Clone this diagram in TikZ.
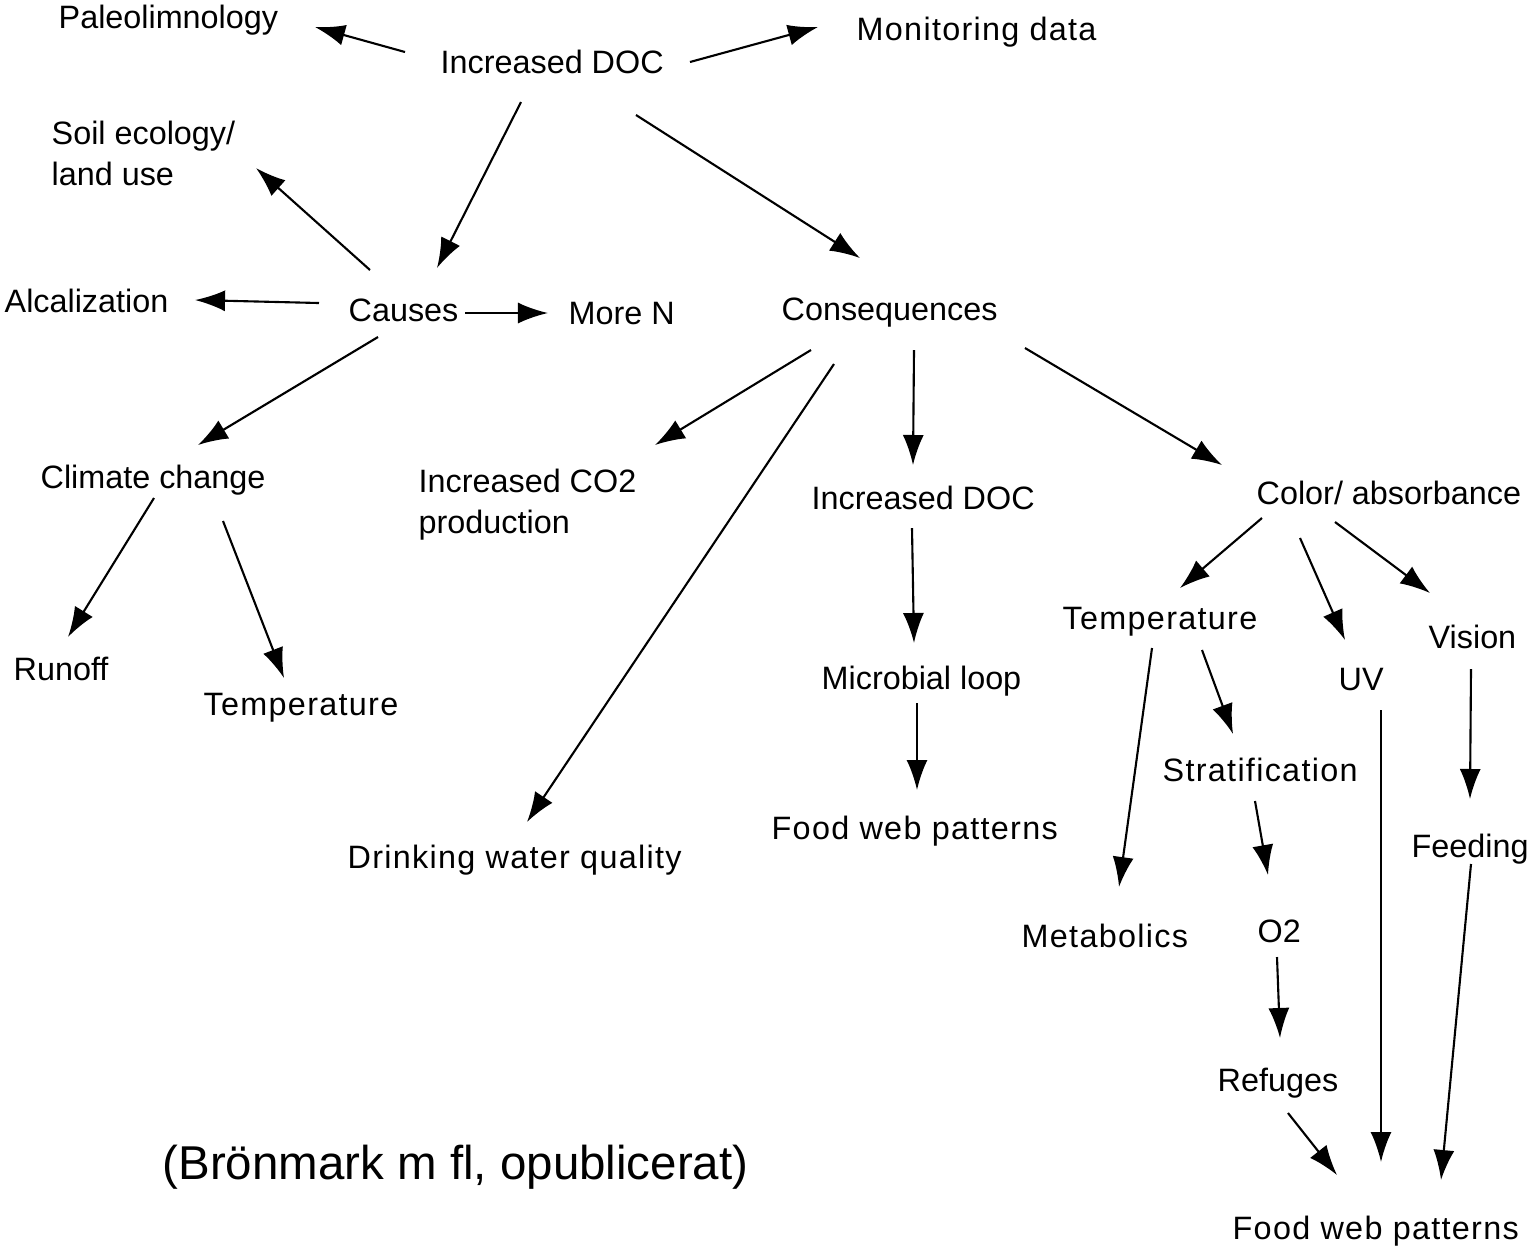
\documentclass[tikz,border=0pt]{standalone}
\usepackage{fontspec}
\setmainfont{Liberation Sans}
\newfontfamily\spacedfont[LetterSpace=4]{Liberation Sans}
\usetikzlibrary{arrows.meta}
\begin{document}
\begin{tikzpicture}[x=0.01cm,y=-0.01cm,
  lbl/.style={anchor=base west,inner sep=0pt,font=\fontsize{9.2}{11.66}\selectfont},
  lbls/.style={anchor=base west,inner sep=0pt,font=\spacedfont\fontsize{9.2}{11.66}\selectfont},
  credit/.style={anchor=base west,inner sep=0pt,font=\fontsize{13.5}{16}\selectfont},
  arr/.style={line width=0.6pt,-{Latex[length=3mm,width=2.1mm]}}]
\useasboundingbox (0,0) rectangle (1536,1247);
% nodes
\node[lbl] (pal) at (58,28) {Paleolimnology};
\node[lbl] (doc) at (440,73) {Increased DOC};
\node[lbls] (mon) at (856,40) {Monitoring data};
\node[lbl] (soil) at (51,144) {\begin{tabular}[t]{@{}l@{}}Soil ecology/\\land use\end{tabular}};
\node[lbl] (alc) at (4,312) {Alcalization};
\node[lbl] (causes) at (348,321) {Causes};
\node[lbl] (moren) at (568,324) {More N};
\node[lbl] (cons) at (781,320) {Consequences};
\node[lbl] (clim) at (40,488) {Climate change};
\node[lbl] (co2) at (418,492) {\begin{tabular}[t]{@{}l@{}}Increased CO2\\production\end{tabular}};
\node[lbl] (runoff) at (13,680) {Runoff};
\node[lbls] (templ) at (203,715) {Temperature};
\node[lbls] (drink) at (347,868) {Drinking water quality};
\node[lbl] (docm) at (811,509) {Increased DOC};
\node[lbl] (micro) at (821,689) {Microbial loop};
\node[lbls] (fwm) at (771,839) {Food web patterns};
\node[lbl] (color) at (1256,504) {Color/ absorbance};
\node[lbls] (tempr) at (1062,629) {Temperature};
\node[lbl] (uv) at (1338,690) {UV};
\node[lbl] (vision) at (1428,648) {Vision};
\node[lbls] (strat) at (1162,781) {Stratification};
\node[lbl] (feed) at (1411,857) {Feeding};
\node[lbls] (metab) at (1021,947) {Metabolics};
\node[lbl] (o2) at (1257,942) {O2};
\node[lbl] (ref) at (1217,1091) {Refuges};
\node[lbls] (fwb) at (1232,1239) {Food web patterns};
\node[credit] (cred) at (162,1179) {(Brönmark m fl, opublicerat)};
% connectors
\draw[arr] ([shift={(-35,-21)}]doc.base west) -- ([shift={(257,-1)}]pal.base west);
\draw[arr] ([shift={(250,-11)}]doc.base west) -- ([shift={(-38,-13)}]mon.base west);
\draw[arr] ([shift={(81,29)}]doc.base west) -- ([shift={(89,-53)}]causes.base west);
\draw[arr] ([shift={(196,42)}]doc.base west) -- ([shift={(79,-62)}]cons.base west);
\draw[arr] ([shift={(22,-51)}]causes.base west) -- ([shift={(205,24)}]soil.base west);
\draw[arr] ([shift={(-29,-18)}]causes.base west) -- ([shift={(191,-12)}]alc.base west);
\draw[arr] ([shift={(117,-8)}]causes.base west) -- ([shift={(-20,-11)}]moren.base west);
\draw[arr] ([shift={(30,16)}]causes.base west) -- ([shift={(158,-43)}]clim.base west);
\draw[arr] ([shift={(114,10)}]clim.base west) -- ([shift={(55,-43)}]runoff.base west);
\draw[arr] ([shift={(183,33)}]clim.base west) -- ([shift={(81,-37)}]templ.base west);
\draw[arr] ([shift={(30,30)}]cons.base west) -- ([shift={(237,-47)}]co2.base west);
\draw[arr] ([shift={(53,44)}]cons.base west) -- ([shift={(180,-46)}]drink.base west);
\draw[arr] ([shift={(133,30)}]cons.base west) -- ([shift={(102,-44)}]docm.base west);
\draw[arr] ([shift={(244,28)}]cons.base west) -- ([shift={(-34,-39)}]color.base west);
\draw[arr] ([shift={(101,19)}]docm.base west) -- ([shift={(93,-46)}]micro.base west);
\draw[arr] ([shift={(96,14)}]micro.base west) -- ([shift={(146,-49)}]fwm.base west);
\draw[arr] ([shift={(6,14)}]color.base west) -- ([shift={(118,-41)}]tempr.base west);
\draw[arr] ([shift={(44,34)}]color.base west) -- ([shift={(7,-50)}]uv.base west);
\draw[arr] ([shift={(79,18)}]color.base west) -- ([shift={(2,-55)}]vision.base west);
\draw[arr] ([shift={(90,19)}]tempr.base west) -- ([shift={(98,-60)}]metab.base west);
\draw[arr] ([shift={(140,21)}]tempr.base west) -- ([shift={(71,-47)}]strat.base west);
\draw[arr] ([shift={(93,20)}]strat.base west) -- ([shift={(11,-67)}]o2.base west);
\draw[arr] ([shift={(20,15)}]o2.base west) -- ([shift={(63,-53)}]ref.base west);
\draw[arr] ([shift={(71,22)}]ref.base west) -- ([shift={(105,-64)}]fwb.base west);
\draw[arr] ([shift={(43,20)}]uv.base west) -- ([shift={(149,-77)}]fwb.base west);
\draw[arr] ([shift={(43,21)}]vision.base west) -- ([shift={(59,-58)}]feed.base west);
\draw[arr] ([shift={(60,7)}]feed.base west) -- ([shift={(209,-59)}]fwb.base west);
\end{tikzpicture}
\end{document}
